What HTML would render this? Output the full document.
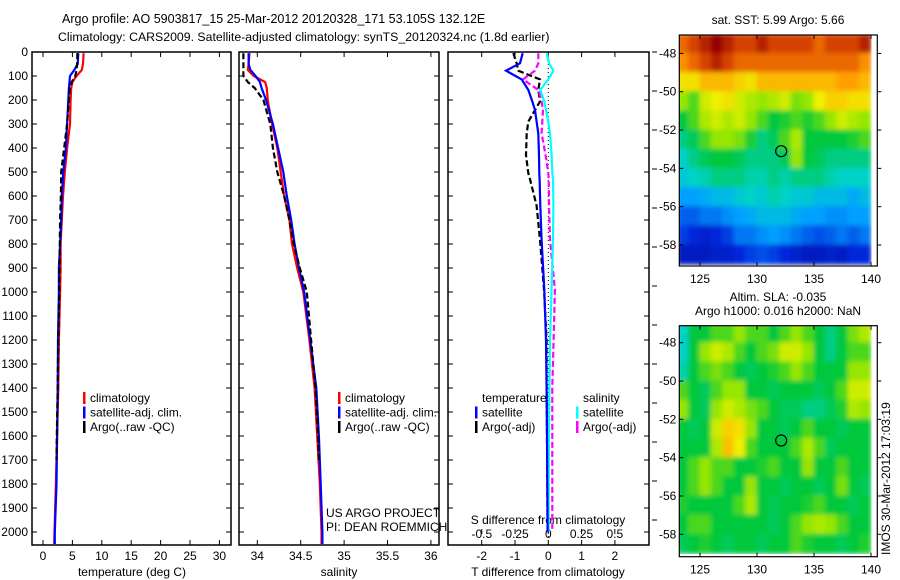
<!DOCTYPE html>
<html><head><meta charset="utf-8">
<style>
html,body{margin:0;padding:0;background:#fff;}
svg{display:block;font-family:"Liberation Sans",sans-serif;}
text{font-size:12px;fill:#000;}
</style></head>
<body>
<svg id="fig" width="900" height="580" viewBox="0 0 900 580" xmlns="http://www.w3.org/2000/svg">
<rect width="900" height="580" fill="#fff"/>
<text x="62" y="23" style="font-size:12.5px">Argo profile: AO 5903817_15 25-Mar-2012 20120328_171 53.105S 132.12E</text>
<text x="58" y="41" style="font-size:12.3px">Climatology: CARS2009. Satellite-adjusted climatology: synTS_20120324.nc (1.8d earlier)</text>
<g id="g"></g>
</svg>
<script>
// ---------- data ----------
const depths   = [5, 50, 75, 100, 125, 150, 200, 300, 400, 500, 600, 700, 800, 900, 1000, 1200, 1400, 1600, 1800, 2000, 2050];
const tempClim = [6.9, 6.8, 6.6, 5.7, 5.0, 4.8, 4.7, 4.6, 4.1, 3.7, 3.4, 3.2, 3.0, 3.0, 2.9, 2.7, 2.6, 2.4, 2.2, 1.95, 1.9];
const tempSat  = [6.0, 5.9, 5.3, 4.6, 4.5, 4.4, 4.3, 4.1, 3.9, 3.45, 3.2, 3.1, 2.9, 2.7, 2.7, 2.55, 2.5, 2.4, 2.3, 2.0, 2.0];
const argoDepths = [5, 50, 75, 100, 125, 150, 200, 300, 400, 500, 600, 700, 800, 900, 1000, 1200, 1400, 1600, 1700];
const tempArgo = [5.85, 5.8, 5.7, 5.5, 4.9, 4.6, 4.4, 4.1, 3.6, 3.1, 3.05, 2.9, 2.85, 2.8, 2.75, 2.6, 2.5, 2.35, 2.3];
const salClim  = [33.91, 33.9, 33.89, 33.96, 34.09, 34.11, 34.12, 34.17, 34.23, 34.27, 34.31, 34.37, 34.40, 34.46, 34.53, 34.60, 34.66, 34.69, 34.72, 34.74, 34.74];
const salSat   = [33.90, 33.9, 33.92, 33.98, 34.03, 34.05, 34.10, 34.18, 34.24, 34.30, 34.34, 34.39, 34.43, 34.48, 34.54, 34.61, 34.68, 34.71, 34.73, 34.75, 34.75];
const salArgo  = [33.84, 33.84, 33.84, 33.84, 33.89, 33.97, 34.07, 34.15, 34.18, 34.23, 34.31, 34.37, 34.42, 34.49, 34.57, 34.62, 34.67, 34.70, 34.71];
const diffDepths = [5, 47, 78, 114, 158, 206, 242, 290, 339, 430, 505, 530, 640, 783, 990, 1200, 1400, 1600, 1800, 2000];
const tDiffSat   = [-0.77, -0.85, -1.27, -0.8, -0.6, -0.48, -0.4, -0.35, -0.3, -0.28, -0.27, -0.26, -0.24, -0.2, -0.12, -0.07, -0.05, -0.04, -0.03, -0.02];
const tDiffArgo  = [-1.05, -0.95, -0.9, -0.25, -0.3, -0.25, -0.4, -0.6, -0.65, -0.67, -0.6, -0.55, -0.35, -0.25, -0.13, -0.05, -0.05, -0.04, -0.03, -0.02];
const sDiffSat   = [-0.012, 0.005, 0.038, 0.0, -0.06, -0.03, -0.017, 0.0, 0.013, 0.025, 0.03, 0.035, 0.038, 0.035, 0.025, 0.013, 0.008, 0.005, 0.003, 0.002];
const sDiffArgo  = [-0.075, -0.075, -0.1, -0.19, -0.075, -0.05, -0.04, -0.045, -0.05, -0.02, 0.0, 0.003, 0.005, 0.013, 0.05, 0.04, 0.03, 0.03, 0.03, 0.03];
const depthTicks = [0,100,200,300,400,500,600,700,800,900,1000,1100,1200,1300,1400,1500,1600,1700,1800,1900,2000];
const tempTicks = [0,5,10,15,20,25,30];
const salTicks = [34,34.5,35,35.5,36];
const salTickLabels = ["34","34.5","35","35.5","36"];
const tdTicks = [-2,-1,0,1,2];
const sdTicks = [-0.5,-0.25,0,0.25,0.5];
const sdTickLabels = ["-0.5","-0.25","0","0.25","0.5"];
const lonTicks = [125,130,135,140];
const latTicks = [48,50,52,54,56,58];
const argoLon = 132.12, argoLat = 53.105;
// map grids: rows from 47S to 59S (1 deg), cols 123E..140.5E
const sstGrid = [
[0.85,0.9,0.95,1.0,0.95,0.9,0.9,0.95,0.9,0.9,0.9,0.9,0.85,0.9,0.9,0.9,0.95],
[0.8,0.85,0.9,0.95,0.9,0.85,0.85,0.85,0.85,0.85,0.85,0.85,0.85,0.85,0.85,0.85,0.8],
[0.7,0.7,0.75,0.75,0.75,0.72,0.7,0.75,0.75,0.75,0.75,0.75,0.75,0.75,0.78,0.78,0.75],
[0.6,0.55,0.65,0.68,0.7,0.65,0.62,0.6,0.62,0.65,0.58,0.6,0.68,0.72,0.72,0.7,0.7],
[0.5,0.55,0.62,0.65,0.62,0.65,0.6,0.55,0.5,0.52,0.55,0.52,0.55,0.6,0.65,0.62,0.6],
[0.45,0.48,0.55,0.6,0.6,0.58,0.52,0.45,0.48,0.55,0.62,0.5,0.5,0.5,0.5,0.52,0.55],
[0.4,0.45,0.48,0.5,0.5,0.48,0.45,0.45,0.45,0.48,0.6,0.5,0.48,0.45,0.45,0.45,0.45],
[0.38,0.4,0.42,0.45,0.45,0.45,0.42,0.42,0.45,0.42,0.45,0.45,0.45,0.42,0.4,0.4,0.4],
[0.3,0.3,0.32,0.35,0.35,0.38,0.4,0.38,0.42,0.4,0.38,0.38,0.35,0.35,0.35,0.32,0.35],
[0.22,0.22,0.25,0.25,0.28,0.3,0.32,0.35,0.35,0.35,0.32,0.3,0.3,0.28,0.28,0.3,0.3],
[0.18,0.15,0.12,0.15,0.18,0.25,0.25,0.28,0.3,0.28,0.25,0.22,0.2,0.22,0.25,0.22,0.25],
[0.1,0.1,0.1,0.12,0.12,0.15,0.18,0.2,0.18,0.15,0.12,0.1,0.1,0.12,0.1,0.15,0.15]];
const slaGrid = [
[0.4,0.5,0.5,0.55,0.55,0.6,0.55,0.55,0.5,0.55,0.6,0.55,0.5,0.45,0.5,0.58,0.62],
[0.4,0.5,0.6,0.65,0.62,0.55,0.5,0.55,0.58,0.65,0.65,0.6,0.5,0.45,0.5,0.55,0.55],
[0.42,0.5,0.55,0.58,0.55,0.5,0.48,0.5,0.52,0.55,0.6,0.55,0.5,0.5,0.5,0.6,0.6],
[0.55,0.5,0.48,0.55,0.6,0.6,0.5,0.5,0.48,0.5,0.5,0.5,0.48,0.5,0.55,0.65,0.65],
[0.6,0.5,0.48,0.6,0.65,0.62,0.58,0.55,0.5,0.48,0.48,0.45,0.45,0.48,0.52,0.62,0.6],
[0.5,0.48,0.5,0.65,0.72,0.7,0.6,0.5,0.5,0.48,0.5,0.55,0.5,0.5,0.48,0.5,0.5],
[0.5,0.5,0.5,0.62,0.74,0.68,0.55,0.5,0.5,0.5,0.55,0.62,0.55,0.48,0.5,0.5,0.5],
[0.5,0.55,0.6,0.55,0.55,0.5,0.5,0.52,0.55,0.5,0.5,0.6,0.5,0.5,0.55,0.5,0.5],
[0.5,0.55,0.6,0.55,0.5,0.5,0.6,0.5,0.5,0.48,0.5,0.5,0.48,0.5,0.58,0.5,0.48],
[0.52,0.5,0.5,0.5,0.5,0.55,0.62,0.5,0.48,0.5,0.5,0.52,0.55,0.5,0.5,0.48,0.5],
[0.5,0.55,0.55,0.5,0.5,0.5,0.5,0.5,0.48,0.5,0.55,0.6,0.62,0.6,0.55,0.5,0.5],
[0.48,0.5,0.52,0.5,0.48,0.5,0.5,0.48,0.5,0.5,0.55,0.52,0.5,0.5,0.48,0.5,0.52]];

// ---------- helpers ----------
const NS="http://www.w3.org/2000/svg";
const G=document.getElementById('g');
function mk(tag,attrs,parent){const e=document.createElementNS(NS,tag);for(const k in attrs)e.setAttribute(k,attrs[k]);(parent||G).appendChild(e);return e;}
function txt(x,y,s,anchor,parent){const t=mk('text',{x:x,y:y,'text-anchor':anchor||'start'},parent);t.textContent=s;return t;}
const TOP=52,BOT=545;
const yD=d=>TOP+0.24*d;
const xT=t=>43+5.88*t;
const xS=s=>257.3+86.8*(s-34);
const xTD=t=>548.3+33.3*t;
const xSD=s=>548.3+133*s;

function panel(x0,x1,name){
  const r=mk('rect',{x:x0,y:TOP,width:x1-x0,height:BOT-TOP,fill:'none',stroke:'#000','stroke-width':1.5});
  
  
  depthTicks.forEach(d=>{
    mk('line',{x1:x0,x2:x0+5,y1:yD(d),y2:yD(d),stroke:'#000'});
    mk('line',{x1:x1-5,x2:x1,y1:yD(d),y2:yD(d),stroke:'#000'});
  });
}
function xticks(vals,fx,labels,y,name){
  vals.forEach((v,i)=>{
    const x=fx(v);
    mk('line',{x1:x,x2:x,y1:BOT,y2:BOT-5,stroke:'#000'});
    mk('line',{x1:x,x2:x,y1:TOP,y2:TOP+5,stroke:'#000'});
    const t=txt(x,y,labels?labels[i]:String(v),'middle');
    
    
  });
}
function line(xs,ds,fx,color,dash,name,clipId){
  const pts=xs.map((v,i)=>fx(v).toFixed(1)+','+yD(ds[i]).toFixed(1)).join(' ');
  const p=mk('polyline',{points:pts,fill:'none',stroke:color,'stroke-width':2.2,'clip-path':'url(#'+clipId+')'});
  if(dash)p.setAttribute('stroke-dasharray',dash);
  
  
}
const defs=mk('defs',{});
[['c1',32,231],['c2',239,439],['c3',448,649]].forEach(c=>{
  const cp=mk('clipPath',{id:c[0]},defs);mk('rect',{x:c[1],y:TOP,width:c[2]-c[1],height:BOT-TOP},cp);
});
const bl=mk('filter',{id:'blur',x:'0',y:'0',width:'1',height:'1'},defs);
mk('feGaussianBlur',{stdDeviation:'2.5',edgeMode:'duplicate'},bl);

// depth labels
depthTicks.forEach(d=>{const t=txt(28,yD(d)+4,String(d),'end');
  
  });

// panel 1 temperature
panel(32,231,'temperature-axes');
xticks(tempTicks,xT,null,560,'temperature-tick-label');
let t1=txt(132,576,'temperature (deg C)','middle');


line(tempClim,depths,xT,'#f00',null,'temp-climatology-line','c1');
line(tempSat,depths,xT,'#00f',null,'temp-satellite-line','c1');
line(tempArgo,argoDepths,xT,'#000','6,3','temp-argo-line','c1');

// panel 2 salinity
panel(239,439,'salinity-axes');
xticks(salTicks,xS,salTickLabels,560,'salinity-tick-label');
let t2=txt(339,576,'salinity','middle');


line(salClim,depths,xS,'#f00',null,'sal-climatology-line','c2');
line(salSat,depths,xS,'#00f',null,'sal-satellite-line','c2');
line(salArgo,argoDepths,xS,'#000','6,3','sal-argo-line','c2');

// legends
function legend(x,items,group){
  items.forEach((it,i)=>{
    const y=398+i*14.5;
    const b=mk('rect',{x:x,y:y-6,width:2.5,height:12,fill:it[0]});
    
    
    const t=txt(x+7,y+4,it[1]);
    
    
  });
}
const legItems=[['#f00','climatology'],['#00f','satellite-adj. clim.'],['#000','Argo(..raw -QC)']];
legend(83,legItems,'temp-legend');
legend(338,legItems,'sal-legend');
let us=txt(326,517,'US ARGO PROJECT');
let pi=txt(326,531,'PI: DEAN ROEMMICH');

// panel 3 differences
panel(448,649,'difference-axes');
mk('line',{x1:xTD(0),x2:xTD(0),y1:TOP,y2:BOT,stroke:'#000','stroke-dasharray':'1,3'});
tdTicks.forEach(v=>{const x=xTD(v);
  mk('line',{x1:x,x2:x,y1:BOT,y2:BOT-5,stroke:'#000'});
  mk('line',{x1:x,x2:x,y1:TOP,y2:TOP+5,stroke:'#000'});
  const t=txt(x,560,String(v),'middle');
  
  });
sdTicks.forEach((v,i)=>{const x=xSD(v);
  mk('line',{x1:x,x2:x,y1:534,y2:529,stroke:'#000'});
  const t=txt(x,538,sdTickLabels[i],'middle');
  
  });
let s3=txt(548,524,'S difference from climatology','middle');

let t3=txt(548,576,'T difference from climatology','middle');

line(tDiffArgo,diffDepths,xTD,'#000','6,3','t-diff-argo-line','c3');
line(sDiffArgo,diffDepths,xSD,'#f0f','6,3','s-diff-argo-line','c3');
line(sDiffSat,diffDepths,xSD,'#0ff',null,'s-diff-satellite-line','c3');
line(tDiffSat,diffDepths,xTD,'#00f',null,'t-diff-satellite-line','c3');
let lt=txt(482,402,'temperature');
let ls=txt(583,402,'salinity');
[[475,'#00f','satellite',0],[475,'#000','Argo(-adj)',1],[576,'#0ff','satellite',0],[576,'#f0f','Argo(-adj)',1]].forEach(it=>{
  const y=412.5+it[3]*14.5;
  const b=mk('rect',{x:it[0],y:y-6,width:2.5,height:12,fill:it[1]});
  
  
  const t=txt(it[0]+7,y+4,it[2]);
  
  
});
for(let y=52;y<=545;y+=39){mk('line',{x1:652,x2:657,y1:y,y2:y,stroke:'#000'});}

// ---------- maps ----------
const cmapStops=[[0,[0,0,140]],[0.15,[0,40,220]],[0.3,[0,160,255]],[0.4,[0,210,200]],[0.5,[0,200,60]],[0.6,[150,230,0]],[0.68,[240,240,0]],[0.78,[255,160,0]],[0.88,[225,80,0]],[1,[150,0,0]]];
function cmap(v){
  v=Math.max(0,Math.min(1,v));
  for(let i=1;i<cmapStops.length;i++){
    if(v<=cmapStops[i][0]){
      const a=cmapStops[i-1],b=cmapStops[i],f=(v-a[0])/(b[0]-a[0]);
      return 'rgb('+[0,1,2].map(k=>Math.round(a[1][k]+(b[1][k]-a[1][k])*f)).join(',')+')';
    }
  }
  return 'rgb(150,0,0)';
}
const MX0=679.3,MX1=877.3;
const xLon=l=>700+11.4*(l-125);
function map(top,bot,lat48y,grid,id,name){
  const yLat=l=>lat48y+19.16*(l-48);
  const cp=mk('clipPath',{id:id},defs);mk('rect',{x:MX0,y:top,width:MX1-MX0,height:bot-top},cp);
  const gg=mk('g',{'clip-path':'url(#'+id+')'});
  const inner=mk('g',{filter:'url(#blur)'},gg);
  grid.forEach((row,ri)=>row.forEach((v,ci)=>{
    const x=xLon(123+ci), y=yLat(47+ri);
    const c=mk('rect',{x:x-0.5,y:y-0.5,width:12.4,height:20.2,fill:cmap(v)},inner);
    
    
  }));
  const fr=mk('rect',{x:MX0,y:top,width:MX1-MX0,height:bot-top,fill:'none',stroke:'#000','stroke-width':1.2});
  
  
  lonTicks.forEach(l=>{const x=xLon(l);
    mk('line',{x1:x,x2:x,y1:top,y2:top+4,stroke:'#000'});
    mk('line',{x1:x,x2:x,y1:bot,y2:bot-4,stroke:'#000'});
    const t=txt(x,bot+17,String(l),'middle');
    
    });
  latTicks.forEach(l=>{const y=yLat(l);
    mk('line',{x1:MX0,x2:MX0+4,y1:y,y2:y,stroke:'#000'});
    mk('line',{x1:MX1,x2:MX1+4,y1:y,y2:y,stroke:'#000'});
    const t=txt(MX0-3,y+4,'-'+l,'end');
    
    });
  const c=mk('circle',{cx:xLon(argoLon),cy:yLat(argoLat),r:5.5,fill:'none',stroke:'#000','stroke-width':1.2});
  
  
}
map(35,266,53.4,sstGrid,'m1','sst-map');
map(325.7,556.7,342.7,slaGrid,'m2','sla-map');
let st=txt(778,24,'sat. SST: 5.99 Argo: 5.66','middle');
let a1=txt(778,301,'Altim. SLA: -0.035','middle');
let a2=txt(778,315,'Argo h1000: 0.016 h2000: NaN','middle');
let ts=txt(0,0,'IMOS 30-Mar-2012 17:03:19','start');
ts.setAttribute('transform','translate(890,555) rotate(-90)');


</script>
</body></html>
